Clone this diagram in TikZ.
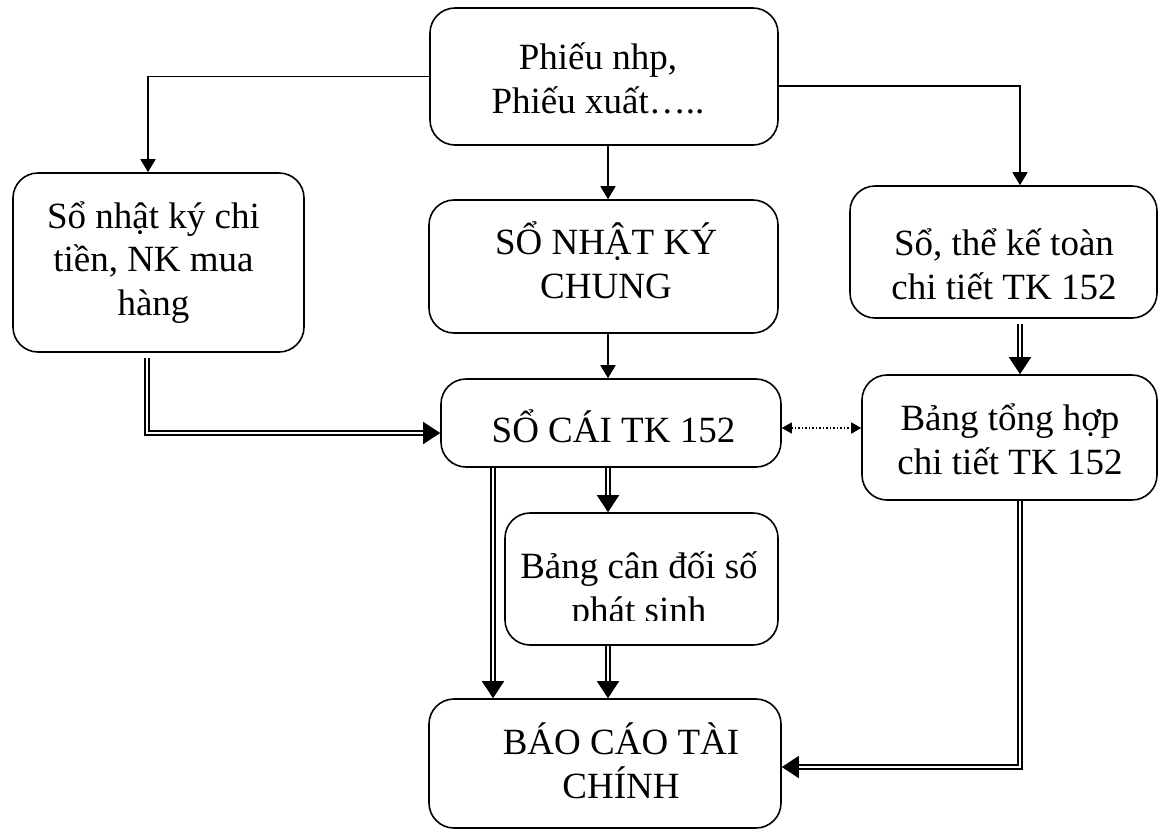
\documentclass[tikz,border=0pt]{standalone}
\usepackage{fontspec}
\setmainfont{Liberation Serif}
\usetikzlibrary{arrows.meta,calc}
\begin{document}
\begin{tikzpicture}[x=1pt,y=-1pt,
 box/.style={draw, line width=1.6pt, rounded corners=25pt, inner sep=0pt},
 txt/.style={align=center, font=\fontsize{37}{43.5}\selectfont, inner sep=0pt, anchor=base},
 arr/.style={line width=1.8pt, -{Triangle[length=13pt,width=15pt]}},
 dbl/.style={double, double distance=2.5pt, line width=1.5pt, -{Triangle[length=17pt,width=22pt]}},
 dotarr/.style={dotted, line width=1.5pt, {Triangle[length=10pt,width=11pt]}-{Triangle[length=10pt,width=11pt]}}]
\useasboundingbox (0,0) rectangle (1159,831);
% boxes
\node[box, minimum width=348pt, minimum height=137pt] (top) at (604,76.5) {};
\node[box, minimum width=291pt, minimum height=179pt] (left) at (158.5,262.5) {};
\node[box, minimum width=349pt, minimum height=133pt] (mid) at (603.5,266.5) {};
\node[box, minimum width=307pt, minimum height=132pt] (right) at (1003.5,252) {};
\node[box, minimum width=340pt, minimum height=88pt] (socai) at (611,423) {};
\node[box, minimum width=295pt, minimum height=125pt] (bth) at (1009.5,437.5) {};
\node[box, minimum width=273pt, minimum height=132pt] (bcd) at (641.5,579) {};
\node[box, minimum width=352pt, minimum height=129pt] (bctc) at (605,763.5) {};
% texts (anchor = baseline of the last line)
\node[txt] (ttop) at (598,113) {Phiếu nhp,\\Phiếu xuất…..};
\node[txt] (tleft) at (153.5,315) {Sổ nhật ký chi\\tiền, NK mua\\hàng};
\node[txt] (tmid) at (606,298) {SỔ NHẬT KÝ\\CHUNG};
\node[txt] (tright) at (1004,299) {Sổ, thể kế toàn\\chi tiết TK 152};
\node[txt] (tsocai) at (613.5,442) {SỔ CÁI TK 152};
\node[txt] (tbth) at (1010,474) {Bảng tổng hợp\\chi tiết TK 152};
\begin{scope}
\clip (505,513) rectangle (778,620);
\node[txt] (tbcd) at (639,622) {Bảng cân đối số\\phát sinh};
\end{scope}
\node[txt] (tbctc) at (621,798) {BÁO CÁO TÀI\\CHÍNH};
% connectors
\draw[arr] (top.west) -| ([xshift=-10.5pt]left.north);
\draw[arr] ([yshift=-9.5pt]top.east) -| ([xshift=16.5pt]right.north);
\draw[arr] ([xshift=4pt]top.south) -- ([xshift=4pt]top.south |- mid.north);
\draw[arr] ([xshift=4.5pt]mid.south) -- ([xshift=4.5pt]mid.south |- socai.north);
\draw[dbl] ([xshift=-11.5pt,yshift=-5pt]left.south) |- ([yshift=-10pt]socai.west);
\draw[dbl] ([xshift=16.5pt,yshift=-5pt]right.south) -- ([xshift=16.5pt]right.south |- bth.north);
\draw[dotarr] ([yshift=-5pt]socai.east) -- ([yshift=-5pt]socai.east -| bth.west);
\draw[dbl] ([xshift=-118pt]socai.south) -- ([xshift=-118pt]socai.south |- bctc.north);
\draw[dbl] ([xshift=-3pt]socai.south) -- ([xshift=-3pt]socai.south |- bcd.north);
\draw[dbl] ([xshift=-33.5pt]bcd.south) -- ([xshift=-33.5pt]bcd.south |- bctc.north);
\draw[dbl] ([xshift=10.5pt]bth.south) |- ([yshift=-3.5pt]bctc.east);
\end{tikzpicture}
\end{document}
